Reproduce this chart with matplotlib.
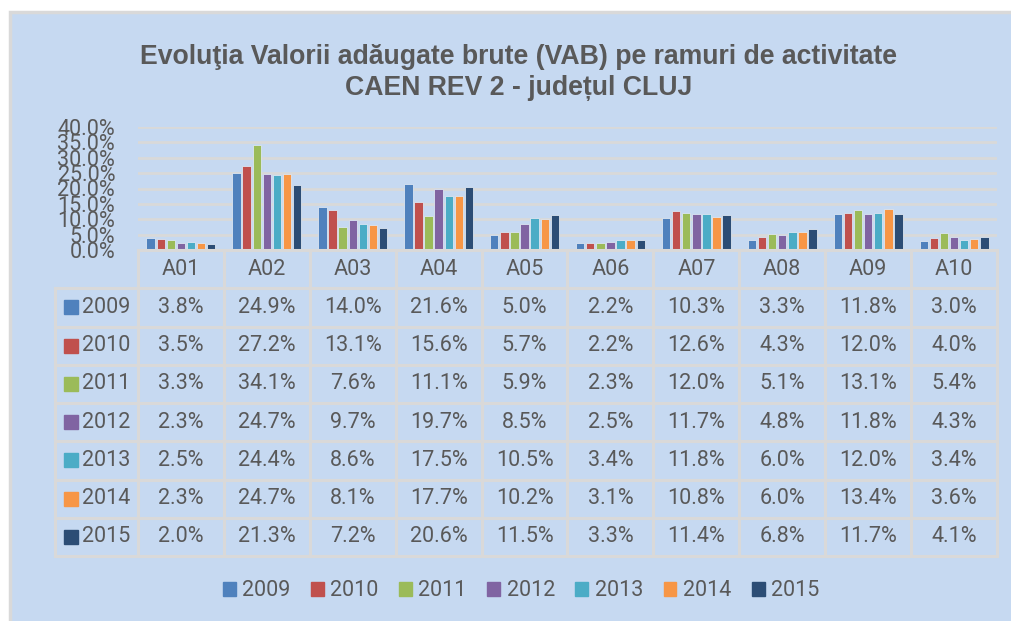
import numpy as np
import matplotlib
matplotlib.use("Agg")
import matplotlib.pyplot as plt
from matplotlib.patches import Rectangle, Patch

# date
categorii = ["A01", "A02", "A03", "A04", "A05", "A06", "A07", "A08", "A09", "A10"]
ani = ["2009", "2010", "2011", "2012", "2013", "2014", "2015"]
v2009 = [3.8, 24.9, 14.0, 21.6, 5.0, 2.2, 10.3, 3.3, 11.8, 3.0]
v2010 = [3.5, 27.2, 13.1, 15.6, 5.7, 2.2, 12.6, 4.3, 12.0, 4.0]
v2011 = [3.3, 34.1, 7.6, 11.1, 5.9, 2.3, 12.0, 5.1, 13.1, 5.4]
v2012 = [2.3, 24.7, 9.7, 19.7, 8.5, 2.5, 11.7, 4.8, 11.8, 4.3]
v2013 = [2.5, 24.4, 8.6, 17.5, 10.5, 3.4, 11.8, 6.0, 12.0, 3.4]
v2014 = [2.3, 24.7, 8.1, 17.7, 10.2, 3.1, 10.8, 6.0, 13.4, 3.6]
v2015 = [2.0, 21.3, 7.2, 20.6, 11.5, 3.3, 11.4, 6.8, 11.7, 4.1]
serii = [v2009, v2010, v2011, v2012, v2013, v2014, v2015]
culori = ["#4f81bd", "#c0504d", "#9bbb59", "#8064a2", "#4bacc6", "#f79646", "#2c4d75"]

W, H = 1012, 621
fundal = "#c6d9f1"
gri = "#d9d9d9"
text_col = "#595959"
fs = 15.5
plt.rcParams['font.family'] = ['Roboto', 'DejaVu Sans']

fig = plt.figure(figsize=(W / 100, H / 100), dpi=100, facecolor="white")

def ax_px(l, t, r, b):
    return fig.add_axes([l / W, 1 - b / H, (r - l) / W, (b - t) / H])

# fundal + chenar
fig.patches.append(Rectangle((10 / W, -0.1), 1.2, 1.1 - 12 / H, transform=fig.transFigure,
                             facecolor=fundal, edgecolor=gri, lw=2.5, zorder=-5))

# titlu
fig.text(519 / W, 1 - 57 / H, "Evoluţia Valorii adăugate brute (VAB) pe ramuri de activitate",
         ha="center", va="center", fontsize=19.2, fontweight="bold", color=text_col,
         family="Liberation Sans")
fig.text(519 / W, 1 - 88 / H, "CAEN REV 2 - județul CLUJ",
         ha="center", va="center", fontsize=19.2, fontweight="bold", color=text_col,
         family="Liberation Sans")

# grafic bare
L, R, T, B = 138, 997, 127, 250
ax = ax_px(L, T, R, B)
ax.set_facecolor("none")
x = np.arange(len(categorii))
pas = 0.1176
lat = 0.097
for i, (s, c) in enumerate(zip(serii, culori)):
    ax.bar(x + (i - 3) * pas, np.array(s) / 100, width=lat, color=c,
           edgecolor="#dce6f2", lw=0.6, zorder=3)
ax.set_xlim(-0.5, 9.5)
ax.set_ylim(0, 0.40)
ax.set_yticks(np.arange(0, 0.401, 0.05))
ax.set_yticklabels(["{:.1f}%".format(v * 100) for v in np.arange(0, 0.401, 0.05)])
ax.yaxis.grid(True, color=gri, lw=2, zorder=0)
ax.set_xticks([])
for sp in ax.spines.values():
    sp.set_visible(False)
ax.tick_params(axis="y", length=0, pad=16.5, labelsize=fs, labelcolor=text_col)

# tabel de date
TL, TB = 55, 556
tax = ax_px(TL, B, R, TB)
tax.set_facecolor("none")
col = (R - L) / 10.0
x0 = -0.5 - (L - TL) / col
tax.set_xlim(x0, 9.5)
tax.set_ylim(8, 0)
tax.axis("off")

def px2x(px):
    return x0 + (px - TL) / col

kw = dict(color=gri, lw=2.2, clip_on=False, solid_capstyle="projecting")
tax.plot([-0.5, 9.5], [0, 0], **kw)
for r in range(1, 9):
    tax.plot([x0, 9.5], [r, r], **kw)
for k in range(11):
    tax.plot([-0.5 + k, -0.5 + k], [0, 8], **kw)
tax.plot([x0, x0], [1, 8], **kw)

for j, cat in enumerate(categorii):
    tax.text(j, 0.5, cat, ha="center", va="center", fontsize=fs, color=text_col)
for i, (an, s, c) in enumerate(zip(ani, serii, culori)):
    yy = i + 1.5
    tax.plot(px2x(71), yy, marker="s", ms=10, color=c, mec=c, clip_on=False)
    tax.text(px2x(82), yy, an, ha="left", va="center", fontsize=fs, color=text_col)
    for j, v in enumerate(s):
        tax.text(j, yy, "{:.1f}%".format(v), ha="center", va="center", fontsize=fs, color=text_col)

# legenda
handles = [Patch(facecolor=c, edgecolor=c, label=a) for a, c in zip(ani, culori)]
fig.legend(handles=handles, loc="center", bbox_to_anchor=(521 / W, 1 - 591 / H), ncol=7,
           frameon=False, fontsize=fs, labelcolor=text_col, handlelength=0.6, handleheight=0.6,
           handletextpad=0.3, columnspacing=0.95)

fig.savefig("out.png", dpi=100, facecolor=fig.get_facecolor())
